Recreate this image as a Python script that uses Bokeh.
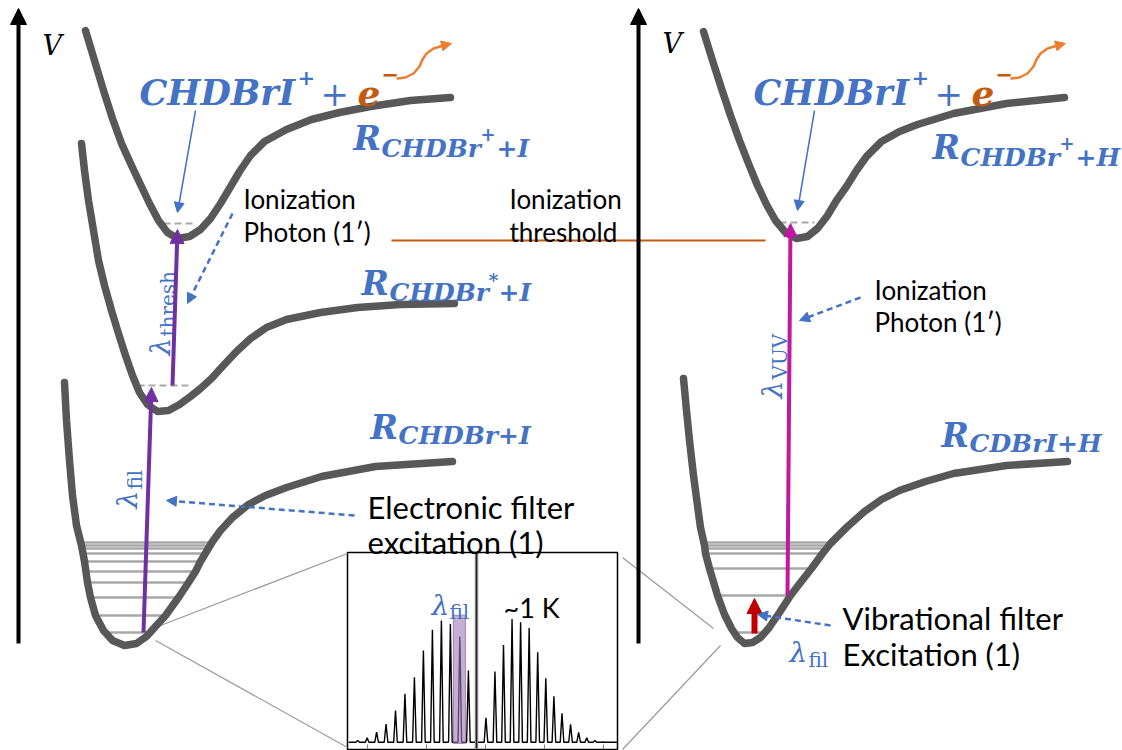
import numpy as np
from bokeh.plotting import figure
from bokeh.models import Range1d, Arrow, NormalHead
from bokeh.core.properties import value
from bokeh.embed import file_html
from bokeh.resources import INLINE

# ---------------- data (diagram units: x = R to the right, y = V downward, canvas px) -------------
# Left panel potential curves
cation_L_x = [85, 94, 103, 112, 121, 131, 140, 149, 158, 167, 177, 189, 200, 210, 220, 229, 239, 250, 264, 286, 311, 339, 370, 410, 450]
cation_L_y = [30, 60, 90, 118, 143, 165, 184, 203, 220, 232, 238, 236, 229, 218, 203, 188, 171, 155, 141, 129, 119, 112, 106, 100, 97]
excited_L_x = [81, 84, 88, 93, 98, 104, 111, 118, 125, 132, 139, 147, 157, 168, 179, 190, 200, 211, 221, 236, 250, 266, 286, 320, 357, 400, 454]
excited_L_y = [143, 170, 200, 230, 260, 285, 310, 333, 355, 375, 392, 404, 411, 410, 404, 396, 388, 378, 367, 351, 338, 327, 319, 312, 307, 304, 303]
ground_L_x = [64, 66, 69, 72, 76, 81, 84, 87, 90, 95, 103, 112, 124, 136, 146, 155, 165, 178, 188, 195, 200, 206, 212, 220, 232, 248, 265, 286, 321, 375, 452]
ground_L_y = [382, 420, 460, 495, 525, 545, 561, 582, 597, 615, 630, 640, 645, 643, 636, 626, 615, 597, 582, 571, 561, 551, 541, 530, 517, 504, 495, 487, 476, 466, 461]
# Right panel potential curves
cation_R_x = [703, 712, 721, 730, 739, 748, 757, 766, 775, 785, 796, 807, 817, 827, 836, 846, 856, 866, 881, 899, 917, 953, 1006, 1064]
cation_R_y = [31, 60, 88, 115, 140, 163, 185, 204, 220, 232, 238, 236, 228, 215, 200, 186, 170, 156, 141, 131, 124, 113, 103, 97]
ground_R_x = [683, 686, 689, 693, 697, 700, 704, 705, 709, 717, 724, 731, 737, 744, 752, 760, 768, 779, 790, 800, 811, 822, 830, 846, 864, 881, 899, 925, 953, 1006, 1067]
ground_R_y = [378, 410, 440, 475, 505, 527, 545, 553, 568, 595, 614, 628, 637, 643, 642, 637, 628, 612, 595, 582, 568, 553, 543, 527, 511, 499, 490, 481, 473, 465, 461]

# Vibrational levels (energy, inner extent)
levels_L_y = [542, 545, 548, 553, 561, 571, 582, 597, 615, 632]
levels_L_x0 = [83, 83, 84, 85, 86, 87, 89, 91, 96, 105]
levels_L_x1 = [212, 210, 208, 204, 199, 194, 188, 178, 165, 150]
levels_R_y = [542, 545, 548, 553, 568, 595, 632]
levels_R_x0 = [703, 703, 704, 705, 709, 717, 731]
levels_R_x1 = [832, 830, 828, 822, 811, 790, 761]

# Zero-point levels (dashed)
zp_y = [223, 385, 222]
zp_x0 = [163, 137, 779]
zp_x1 = [195, 188, 814]

# Rotational spectrum in inset (offset units, normalised intensity)
peak_pos = [-13.2, -12.15, -11.1, -10.05, -9.0, -7.95, -6.9, -5.9, -4.9, -3.9, -2.9, -1.85, -0.9,
            1.05, 2.05, 3.0, 3.95, 4.9, 5.85, 6.8, 7.7, 8.6, 9.5, 10.45, 11.35, 12.25, 13.15, 14.05]
peak_int = [0.014, 0.035, 0.081, 0.148, 0.257, 0.392, 0.527, 0.744, 0.911, 0.987, 0.959, 0.857, 0.581,
            0.197, 0.573, 0.789, 1.0, 0.973, 0.927, 0.730, 0.519, 0.373, 0.235, 0.144, 0.079, 0.035, 0.014, 0.002]
selected_peak = -1.85
inset_ticks = [-12.1, -5.55, 1.0, 7.55, 14.1]

# ---------------- styles ----------------
BLUE = "#4472C4"
ORANGE = "#C55A11"
ORANGE_L = "#ED7D31"
CURVE = "#585858"
PURPLE = "#7030A0"
MAGENTA = "#C0189E"
RED = "#C00000"
LEVEL = "#A8A8A8"

W, H = 1122, 750
p = figure(width=W, height=H, x_range=Range1d(0, W), y_range=Range1d(H, 0),
           output_backend="svg", toolbar_location=None, min_border=0,
           x_axis_location=None, y_axis_location=None)
p.grid.visible = False
p.outline_line_color = None
p.background_fill_color = "white"
p.border_fill_color = "white"

# inset scales
X0, PXU, Y0, PXI = 476.0, 9.0, 741.7, 123.3
p.extra_x_ranges = {"sx": Range1d(-X0 / PXU, (W - X0) / PXU)}
p.extra_y_ranges = {"sy": Range1d((Y0 - H) / PXI, Y0 / PXI)}


def txt(x, y, s, size, color="black", font="Lato", style="normal", angle=0.0,
        align="left", baseline="alphabetic"):
    p.text(x=[x], y=[y], text=[s], text_font=value(font), text_font_size=f"{size}px",
           text_font_style=style, text_color=color, angle=angle,
           text_align=align, text_baseline=baseline)


def arrow(x0, y0, x1, y1, color, width, head, dash="solid"):
    p.add_layout(Arrow(x_start=x0, y_start=y0, x_end=x1, y_end=y1,
                       line_color=color, line_width=width, line_dash=dash,
                       end=NormalHead(size=head, fill_color=color, line_color=color, line_width=1)))


# ---------------- inset spectrum (drawn first so labels sit on top) ----------------
p.quad(left=[347], right=[617], top=[552], bottom=[749], fill_color="white",
       line_color="black", line_width=1.5)
hw = 0.2
sx, sy = [-14.2], [0.0]
for pos, inten in zip(peak_pos, peak_int):
    sx += [pos - hw, pos, pos + hw]
    sy += [0.0, inten, 0.0]
sx.append(15.6)
sy.append(0.0)
p.line(sx, sy, line_color="black", line_width=1.4, x_range_name="sx", y_range_name="sy")
p.segment(inset_ticks, [748] * len(inset_ticks), inset_ticks, [744] * len(inset_ticks),
          line_color="#777777", line_width=1, x_range_name="sx")
p.segment([0], [552], [0], [748], line_color="#8a8a8a", line_width=3.5, x_range_name="sx")
p.segment([0], [552], [0], [748], line_color="#222222", line_width=1.2, x_range_name="sx")
p.quad(left=[selected_peak - 0.72], right=[selected_peak + 0.62], bottom=[-0.01], top=[1.03],
       fill_color="#A07AB8", fill_alpha=0.6, line_color="#8E5EA2", line_alpha=0.7,
       x_range_name="sx", y_range_name="sy")
txt(431, 605, "\u03bb", 28, BLUE, "DejaVu Serif", "italic")
txt(449, 611, "fil", 20, BLUE, "DejaVu Serif")
txt(503, 607, "~1 K", 27)

# vibrational levels
p.segment(levels_L_x0, levels_L_y, levels_L_x1, levels_L_y, line_color=LEVEL, line_width=2.5)
p.segment(levels_R_x0, levels_R_y, levels_R_x1, levels_R_y, line_color=LEVEL, line_width=2.5)
p.segment(zp_x0, zp_y, zp_x1, zp_y, line_color=LEVEL, line_width=2, line_dash="7 4")

# zoom guide lines
p.segment([160, 155, 622, 622], [625, 640, 557, 749], [347, 347, 713, 720], [553, 747, 628, 645],
          line_color="#9a9a9a", line_width=1.2)

# curves
for cx, cy in [(cation_L_x, cation_L_y), (excited_L_x, excited_L_y), (ground_L_x, ground_L_y),
               (cation_R_x, cation_R_y), (ground_R_x, ground_R_y)]:
    p.line(cx, cy, line_color=CURVE, line_width=7.5, line_cap="round", line_join="round")

# axes (V)
arrow(18, 643, 18, 8, "black", 4, 16)
arrow(638, 643, 638, 8, "black", 4, 16)
txt(42, 45, "V", 27, font="DejaVu Serif", style="italic")
txt(662, 43, "V", 27, font="DejaVu Serif", style="italic")

# ionization threshold
p.line([391, 765], [240, 240], line_color=ORANGE, line_width=2)

# transitions
arrow(143, 632, 151, 387, PURPLE, 4, 14)
arrow(172, 385, 177, 229, PURPLE, 4, 14)
arrow(787, 595, 790, 223, MAGENTA, 4, 13)
arrow(754, 633, 754, 598, RED, 6, 15)

# pointer arrows
arrow(195, 110, 177, 212, BLUE, 1.5, 10)
arrow(814, 110, 797, 210, BLUE, 1.5, 10)
arrow(232, 213, 187, 303, BLUE, 2.5, 10, dash="6 4")
arrow(354, 515, 166, 500, BLUE, 2.5, 10, dash="6 4")
arrow(860, 297, 799, 320, BLUE, 2.5, 10, dash="6 4")
arrow(830, 625, 757, 614, BLUE, 2.5, 10, dash="6 4")

# electron wavy arrows
wx = np.array([397, 405, 413, 419, 422, 426, 433, 443, 451])
wy = np.array([78, 77, 73, 66, 59, 53, 48, 45, 43])
for dx in (0, 614):
    p.line(wx[:-1] + dx, wy[:-1], line_color=ORANGE_L, line_width=2.5, line_cap="round")
    arrow(wx[-2] + dx, wy[-2], wx[-1] + dx, wy[-1], ORANGE_L, 2.5, 10)

# ion labels
for dx in (0, 614):
    txt(139 + dx, 92, "CHDBrI", 35, BLUE, "DejaVu Serif", "bold italic")
    txt(297 + dx, 77, "+", 21, BLUE, "DejaVu Serif", "bold")
    txt(320 + dx, 93, "+", 34, BLUE, "DejaVu Serif")
    txt(357 + dx, 92, "e", 36, ORANGE, "DejaVu Serif", "bold italic")
    txt(381 + dx, 74, "\u2212", 21, ORANGE, "DejaVu Serif", "bold")

# R labels
def rlabel(x, y, parts):
    txt(x, y, "R", 33, BLUE, "DejaVu Serif", "bold italic")
    for (dx, dy, s, size) in parts:
        txt(x + dx, y + dy, s, size, BLUE, "DejaVu Serif", "bold italic")

rlabel(353, 138, [(28, 10, "CHDBr", 25), (127, -5, "+", 18), (143, 10, "+I", 25)])
rlabel(932, 147, [(28, 10, "CHDBr", 25), (127, -5, "+", 18), (143, 10, "+H", 25)])
rlabel(361, 283, [(28, 9, "CHDBr", 25), (127, -4, "*", 19), (137, 9, "+I", 25)])
rlabel(370, 427, [(28, 8, "CHDBr+I", 25)])
rlabel(941, 435, [(28, 8, "CDBrI+H", 25)])

# black annotations
txt(243, 198, "Ionization", 26)
txt(243, 231, "Photon (1\u2032)", 26)
txt(509, 198, "Ionization", 26)
txt(509, 231, "threshold", 26)
txt(874, 289, "Ionization", 26)
txt(874, 321, "Photon (1\u2032)", 26)
txt(367, 506, "Electronic filter", 31)
txt(367, 541, "excitation (1)", 31)
txt(842, 617, "Vibrational filter", 31)
txt(842, 653, "Excitation (1)", 31)

# lambda labels
ROT = np.pi / 2
txt(127, 508, "\u03bb", 28, BLUE, "DejaVu Serif", "italic", angle=ROT)
txt(134, 489, "fil", 20, BLUE, "DejaVu Serif", angle=ROT)
txt(160, 355, "\u03bb", 28, BLUE, "DejaVu Serif", "italic", angle=ROT)
txt(167, 336, "thresh", 20, BLUE, "DejaVu Serif", angle=ROT)
txt(772, 398, "\u03bb", 28, BLUE, "DejaVu Serif", "italic", angle=ROT)
txt(779, 379, "VUV", 20, BLUE, "DejaVu Serif", angle=ROT)
txt(789, 652, "\u03bb", 28, BLUE, "DejaVu Serif", "italic")
txt(808, 659, "fil", 20, BLUE, "DejaVu Serif")

open("out.html", "w").write(file_html(p, INLINE))
